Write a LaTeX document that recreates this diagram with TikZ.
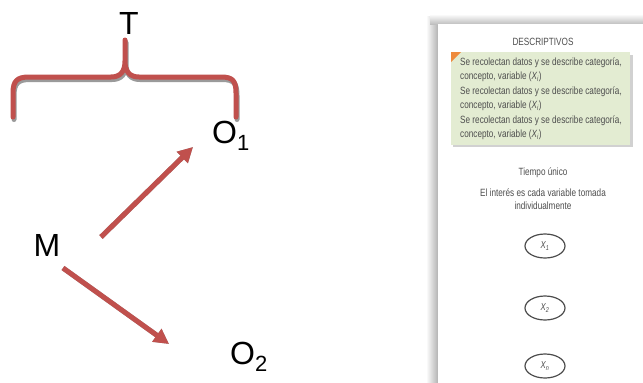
\documentclass[tikz,border=0pt]{standalone}
\usepackage{fontspec}
\setmainfont{Liberation Sans}
\newfontfamily\condfont[FakeStretch=0.78]{Liberation Sans}
\usetikzlibrary{arrows.meta,shapes.geometric}
\definecolor{bred}{HTML}{C0504D}
\definecolor{shad}{HTML}{9A9A9A}
\definecolor{pgreen}{HTML}{E3ECD2}
\definecolor{ptext}{HTML}{4E4E4E}
\definecolor{porange}{HTML}{EE8A3C}
\tikzset{
  big/.style={font=\fontsize{32}{36}\selectfont, inner sep=0pt},
  redarrow/.style={draw=bred, line width=5pt, -{Triangle[length=15pt,width=15pt]}},
  shadarrow/.style={draw=shad, line width=5pt, -{Triangle[length=15pt,width=15pt]}},
  small/.style={font=\condfont\fontsize{10.5}{14.4}\selectfont, text=ptext, inner sep=0pt},
  varell/.style={draw=black!70, line width=1.2pt, ellipse, minimum width=40pt, minimum height=24pt, inner sep=0pt, font=\condfont\fontsize{10}{10}\selectfont\itshape, text=ptext}
}
\newcommand{\bigsub}[1]{\textsubscript{\fontsize{22}{22}\selectfont #1}}
\begin{document}
\begin{tikzpicture}[x=1pt,y=-1pt]
\useasboundingbox (0,0) rectangle (643,383);
\fill[white] (0,0) rectangle (643,383);

% brace
\def\bracepath{(13,117) -- (13,93) .. controls (13,81) and (17,77) .. (29,77) -- (111,77) .. controls (120,77) and (125,72) .. (125,61) -- (125,40) (125,61) .. controls (125,72) and (130,77) .. (139,77) -- (221,77) .. controls (233,77) and (236,81) .. (236,93) -- (236,117)}
\draw[shad, line width=5pt, line cap=round, line join=round, shift={(1pt,-2.5pt)}] \bracepath;
\draw[bred, line width=5pt, line cap=round, line join=round] \bracepath;

\node[big] (T) at (129,23) {T};
\node[big] (M) at (47,245) {M};
\node[big, anchor=west] (O1) at (212,136) {O\bigsub{1}};
\node[big, anchor=west] (O2) at (230,357) {O\bigsub{2}};

\coordinate (a1s) at (101,237);
\coordinate (a1e) at (193,147);
\coordinate (a2s) at (63,268);
\coordinate (a2e) at (169,344);
\draw[shadarrow, shift={(1.5pt,-2.5pt)}] (a1s) -- (a1e);
\draw[shadarrow, shift={(-1pt,-3pt)}] (a2s) -- (a2e);
\draw[redarrow] (a1s) -- (a1e);
\draw[redarrow] (a2s) -- (a2e);

% right panel
\shade[left color=white, right color=black!30] (426,16) rectangle (438,383);
\shade[top color=white, bottom color=black!25] (430,14) rectangle (643,24);
\fill[white] (438,24) rectangle (643,383);

\node[small] (desc) at (543,42) {DESCRIPTIVOS};
\fill[black!18] (453,55) rectangle (633,147);
\fill[pgreen] (451,52) rectangle (630,145);
\fill[porange] (451,52) -- (461,52) -- (451,62) -- cycle;
\node[small, anchor=north west, align=left] (gtext) at (460,57.5)
 {Se recolectan datos y se describe categoría,\\concepto, variable (\textit{X\textsubscript{i}})\\
  Se recolectan datos y se describe categoría,\\concepto, variable (\textit{X\textsubscript{i}})\\
  Se recolectan datos y se describe categoría,\\concepto, variable (\textit{X\textsubscript{i}})};

\node[small] (tiempo) at (543,173) {Tiempo único};
\node[small, align=center, font=\condfont\fontsize{10.5}{12.5}\selectfont] (interes) at (543,199) {El interés es cada variable tomada\\individualmente};

\node[varell] (x1) at (545,246) {X\textsubscript{1}};
\node[varell] (x2) at (545,308) {X\textsubscript{2}};
\node[varell] (x3) at (545,366) {X\textsubscript{n}};
\end{tikzpicture}
\end{document}
